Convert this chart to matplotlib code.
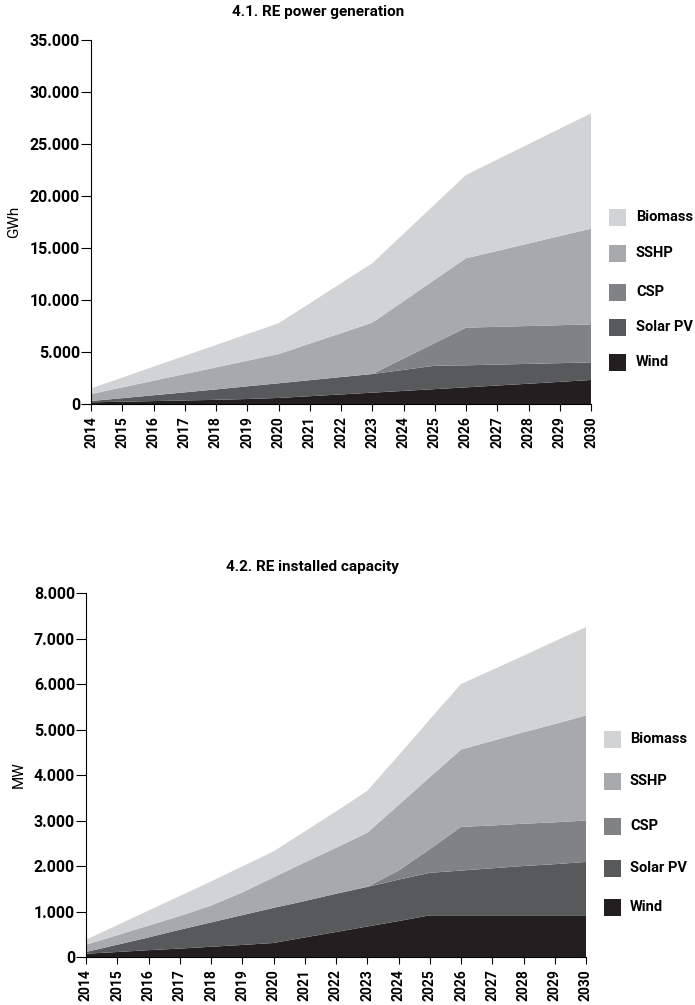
import numpy as np
import matplotlib
matplotlib.use('Agg')
import matplotlib.pyplot as plt
from matplotlib.patches import Rectangle
from matplotlib.ticker import FuncFormatter

plt.rcParams['font.family'] = ['Roboto', 'DejaVu Sans']
plt.rcParams['font.weight'] = 'semibold'

years = list(range(2014, 2031))
sources = ['Wind', 'Solar PV', 'CSP', 'SSHP', 'Biomass']
colors = ['#231f20', '#58595b', '#808285', '#a7a9ac', '#d1d3d4']

# 4.1 power generation, GWh
gen_wind = [160, 220, 280, 340, 400, 480, 580, 750, 920, 1090, 1260, 1430, 1600, 1780, 1950, 2130, 2310]
gen_solar = [130, 340, 560, 780, 1000, 1220, 1410, 1540, 1670, 1790, 2020, 2250, 2120, 2010, 1910, 1800, 1690]
gen_csp = [0, 0, 0, 0, 0, 0, 0, 0, 0, 0, 1090, 2180, 3620, 3630, 3640, 3650, 3660]
gen_sshp = [670, 1040, 1400, 1760, 2120, 2460, 2810, 3520, 4220, 4940, 5510, 6090, 6670, 7300, 7930, 8570, 9200]
gen_bio = [540, 940, 1350, 1750, 2150, 2560, 2960, 3870, 4800, 5710, 6480, 7240, 8010, 8780, 9550, 10320, 11090]

# 4.2 installed capacity, MW
cap_wind = [72, 110, 150, 185, 225, 265, 308, 430, 550, 670, 790, 915, 915, 915, 915, 915, 915]
cap_solar = [38, 160, 280, 415, 535, 655, 772, 800, 840, 870, 910, 935, 985, 1035, 1085, 1125, 1175]
cap_csp = [0, 0, 0, 0, 0, 0, 0, 0, 0, 0, 200, 520, 960, 940, 930, 920, 910]
cap_sshp = [160, 210, 260, 300, 370, 500, 670, 850, 1010, 1190, 1440, 1580, 1700, 1860, 2010, 2160, 2310]
cap_bio = [110, 220, 330, 440, 530, 570, 570, 680, 800, 920, 1090, 1270, 1440, 1560, 1680, 1820, 1940]

W, H = 695, 1005


def fx(x):
    return x / W


def fy(y):
    return 1 - y / H


def thousands(v, pos):
    return f'{int(v):,}'.replace(',', '.')


def area_panel(ax, series, ymax, ystep, ylabel):
    ax.stackplot(years, *series, colors=colors, linewidth=0)
    ax.set_xlim(2014, 2030)
    ax.set_ylim(0, ymax)
    ax.set_xticks(years)
    ax.set_xticklabels([str(y) for y in years], rotation=90, fontsize=10)
    ax.set_yticks(np.arange(0, ymax + 1, ystep))
    ax.yaxis.set_major_formatter(FuncFormatter(thousands))
    ax.tick_params(axis='y', labelsize=11.5, length=7, width=0.8, pad=1)
    ax.tick_params(axis='x', length=5, width=0.8, pad=4)
    for s in ['top', 'right']:
        ax.spines[s].set_visible(False)
    for s in ['left', 'bottom']:
        ax.spines[s].set_linewidth(0.8)
    ax.set_ylabel(ylabel, fontsize=11, fontweight='normal', labelpad=6)


def legend_block(x_sq, x_txt, y_centers):
    for src, col, yc in zip(sources[::-1], colors[::-1], y_centers):
        fig.add_artist(Rectangle((fx(x_sq), fy(yc + 9)), 17 / W, 17 / H,
                                 transform=fig.transFigure, facecolor=col, edgecolor='none'))
        fig.text(fx(x_txt), fy(yc), src, fontsize=10.5, va='center', ha='left')


fig = plt.figure(figsize=(6.95, 10.05), dpi=100)

ax1 = fig.add_axes([fx(91), fy(404), fx(591) - fx(91), fy(40) - fy(404)])
area_panel(ax1, [gen_wind, gen_solar, gen_csp, gen_sshp, gen_bio], 35000, 5000, 'GWh')
fig.text(fx(318), fy(12), '4.1. RE power generation', fontsize=11, ha='center', va='center')
legend_block(609, 636, [217, 253, 292, 327, 362])

ax2 = fig.add_axes([fx(86), fy(957), fx(586) - fx(86), fy(593) - fy(957)])
area_panel(ax2, [cap_wind, cap_solar, cap_csp, cap_sshp, cap_bio], 8000, 1000, 'MW')
fig.text(fx(312), fy(567), '4.2. RE installed capacity', fontsize=11, ha='center', va='center')
legend_block(604, 630, [739, 781, 826, 868, 907])

fig.savefig('out.png', dpi=100)
